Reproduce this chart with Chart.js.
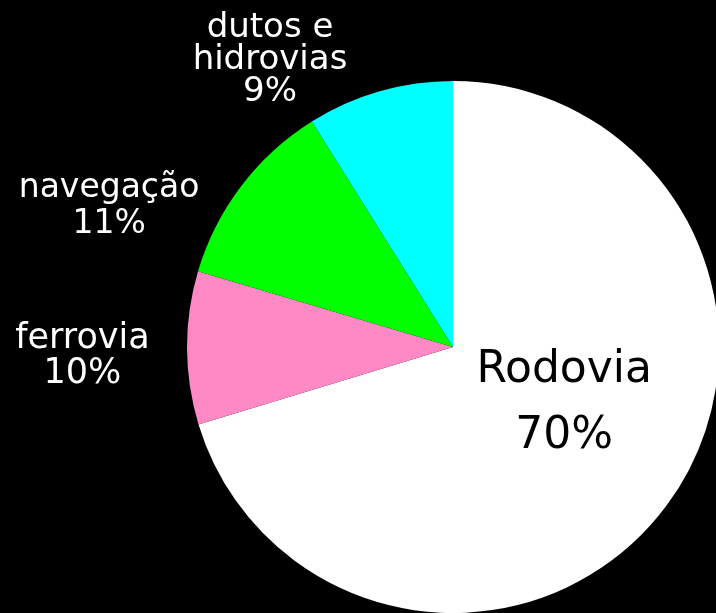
<!DOCTYPE html>
<html>
<head>
<meta charset="utf-8">
<script src="https://cdn.jsdelivr.net/npm/chart.js@4"></script>
<style>
html,body{margin:0;padding:0;background:#000;overflow:hidden;width:716px;height:613px;}
canvas{display:block;}
</style>
</head>
<body>
<canvas id="c" width="740" height="640"></canvas>
<script>
const categories = ["Rodovia", "ferrovia", "navegação", "dutos e hidrovias"];
// slice sizes as drawn in the picture (the printed labels read 70 / 10 / 11 / 9 %)
const shares = [70.3, 9.3, 11.5, 8.9];
const labelLines = [["Rodovia", "70%"], ["ferrovia", "10%"], ["navegação", "11%"], ["dutos e", "hidrovias", "9%"]];
const colors = ["#ffffff", "#ff89c4", "#00ff00", "#00ffff"];

// label placement relative to pie centre, in units of radius (dx, first baseline dy, line step)
const labelPlacement = [
  {dx: 0.418, dy: 0.132, step: 0.248, size: 44, color: "#000"},
  {dx: -1.393, dy: 0.004, step: 0.132, size: 35, color: "#fff"},
  {dx: -1.293, dy: -0.564, step: 0.135, size: 33, color: "#fff"},
  {dx: -0.688, dy: -1.165, step: 0.12, size: 34, color: "#fff"}
];

const labelPlugin = {
  id: "sliceLabels",
  afterDatasetsDraw(chart) {
    const ctx = chart.ctx;
    const arc = chart.getDatasetMeta(0).data[0];
    const cx = arc.x, cy = arc.y, r = arc.outerRadius;
    ctx.save();
    ctx.textAlign = "center";
    ctx.textBaseline = "alphabetic";
    labelLines.forEach((lines, i) => {
      const p = labelPlacement[i];
      ctx.font = p.size + "px 'DejaVu Sans'";
      ctx.fillStyle = p.color;
      lines.forEach((t, j) => {
        ctx.fillText(t, cx + p.dx * r, cy + (p.dy + j * p.step) * r);
      });
    });
    ctx.restore();
  }
};

new Chart(document.getElementById("c"), {
  type: "pie",
  data: {
    labels: categories,
    datasets: [{
      data: shares,
      backgroundColor: colors,
      borderWidth: 0
    }]
  },
  options: {
    responsive: false,
    animation: false,
    devicePixelRatio: 1,
    layout: {padding: {left: 187, top: 81, right: 21, bottom: 27}},
    plugins: {legend: {display: false}, tooltip: {enabled: false}}
  },
  plugins: [labelPlugin]
});
</script>
</body>
</html>
